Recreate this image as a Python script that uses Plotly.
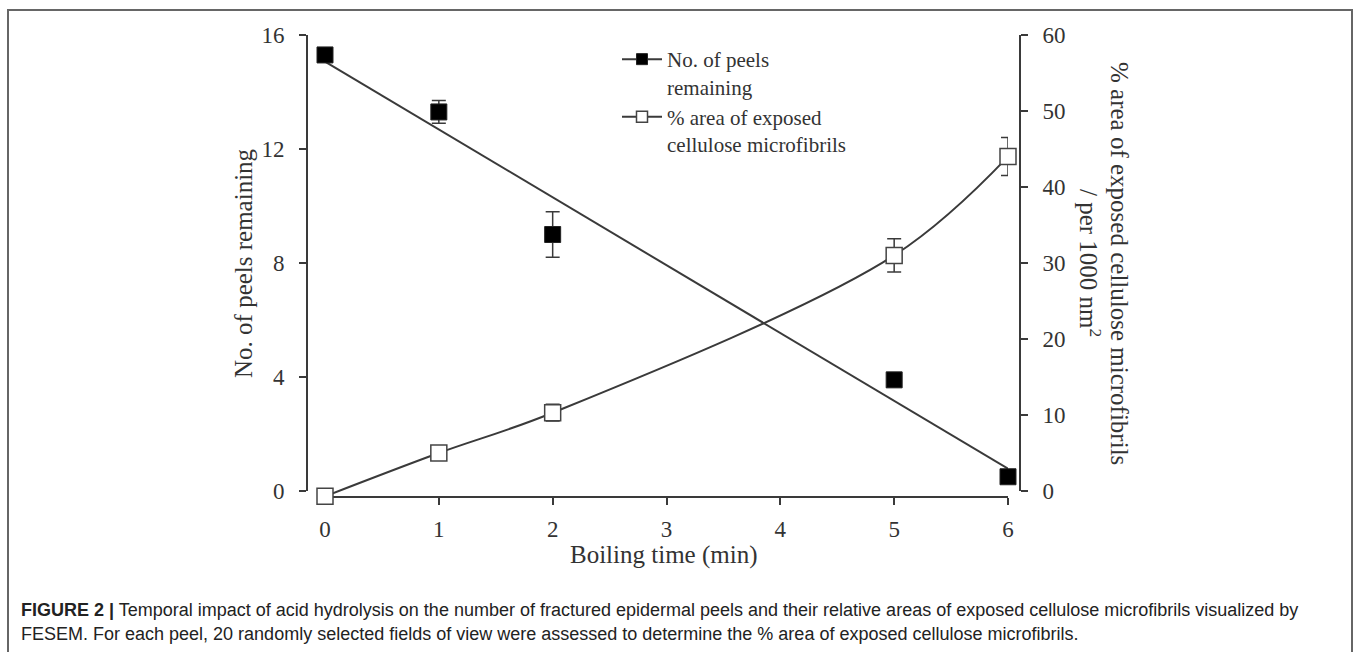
import numpy as np
import plotly.graph_objects as go

# Boiling time (min)
boil_time = [0, 1, 2, 5, 6]

# Number of epidermal peels remaining (mean and error)
peels = [15.3, 13.3, 9.0, 3.9, 0.5]
peels_err = [0.2, 0.4, 0.8, 0.15, 0.15]

# % area of exposed cellulose microfibrils per 1000 nm^2 (mean and error)
area = [-0.7, 5.0, 10.3, 31.0, 44.0]
area_err = [0.3, 0.5, 1.1, 2.2, 2.5]

x_ticks = [0, 1, 2, 3, 4, 5, 6]
left_ticks = [0, 4, 8, 12, 16]
right_ticks = [0, 10, 20, 30, 40, 50, 60]

caption_bold = "FIGURE 2 |"
caption_line1 = (" Temporal impact of acid hydrolysis on the number of fractured epidermal peels "
                 "and their relative areas of exposed cellulose microfibrils visualized by")
caption_line2 = ("FESEM. For each peel, 20 randomly selected fields of view were assessed to "
                 "determine the % area of exposed cellulose microfibrils.")

SERIF = "Liberation Serif, Times New Roman, serif"
SANS = "Liberation Sans, Arial, sans-serif"
INK = "#333333"
LINE = "#3a3a3a"

# Linear trend of the peel counts
slope, intercept = np.polyfit(boil_time, peels, 1)
trend_x = [boil_time[0], boil_time[-1]]
trend_y = [intercept + slope * t for t in trend_x]

W, H = 1358, 652
L, R, T, B = 307, 338, 35, 155
plot_w = W - L - R
plot_h = H - T - B
Y0_PX = 491  # pixel row of the value 0 on both y axes


def px_x(p):
    return (p - L) / plot_w


def px_y(p):
    return (H - B - p) / plot_h


# hidden axis with the right-hand scale, reaching down to the x axis line
right_per_px = 60 / (Y0_PX - T)
y3_low = -(H - B - Y0_PX) * right_per_px

fig = go.Figure()

fig.add_trace(go.Scatter(
    x=trend_x, y=trend_y, mode="lines",
    line=dict(color=LINE, width=2), showlegend=False, hoverinfo="skip",
    cliponaxis=False,
))

fig.add_trace(go.Scatter(
    x=boil_time, y=peels, mode="markers",
    marker=dict(symbol="square", size=16, color="#000000",
                line=dict(color="#222222", width=1)),
    error_y=dict(type="data", array=peels_err, color=LINE, thickness=1.5, width=7),
    showlegend=False, cliponaxis=False,
))

fig.add_trace(go.Scatter(
    x=boil_time, y=area, mode="lines+markers", yaxis="y3",
    line=dict(color=LINE, width=2, shape="spline", smoothing=1.0),
    marker=dict(symbol="square", size=16, color="#ffffff",
                line=dict(color="#444444", width=1.5)),
    error_y=dict(type="data", array=area_err, color=LINE, thickness=1.5, width=7),
    showlegend=False, cliponaxis=False,
))

# Legend entries
fig.add_trace(go.Scatter(
    x=[None], y=[None], mode="lines+markers", name="No. of peels<br>remaining",
    legendgroup="peels",
    line=dict(color=LINE, width=2),
    marker=dict(symbol="square", size=11, color="#000000", line=dict(color="#222222", width=1)),
))
fig.add_trace(go.Scatter(
    x=[None], y=[None], mode="lines+markers", name="% area of exposed<br>cellulose microfibrils",
    legendgroup="area", yaxis="y2",
    line=dict(color=LINE, width=2),
    marker=dict(symbol="square", size=11, color="#ffffff", line=dict(color="#444444", width=1.5)),
))

axis_common = dict(
    showline=True, linecolor=LINE, linewidth=2,
    ticks="outside", ticklen=7, tickwidth=2, tickcolor=LINE,
    showgrid=False, zeroline=False,
    tickfont=dict(family=SERIF, size=23, color=INK),
)

fig.update_layout(
    width=W, height=H,
    margin=dict(l=L, r=R, t=T, b=B, pad=0),
    paper_bgcolor="#ffffff", plot_bgcolor="rgba(0,0,0,0)",
    xaxis=dict(
        **axis_common,
        domain=[px_x(317), px_x(1008)],
        range=[-8 / ((1008 - 325) / 6), 6],
        tickvals=x_ticks, ticklabelstandoff=4,
        anchor="free", position=0,
    ),
    yaxis=dict(
        **axis_common,
        domain=[px_y(Y0_PX), 1],
        range=[0, 16], tickvals=left_ticks, ticklabelstandoff=10,
        anchor="free", position=0,
    ),
    yaxis2=dict(
        **axis_common,
        domain=[px_y(Y0_PX), 1],
        range=[0, 60], tickvals=right_ticks, ticklabelstandoff=10,
        overlaying="y", side="right", anchor="free", position=1,
    ),
    yaxis3=dict(
        domain=[0, 1], range=[y3_low, 60], visible=False, anchor="x",
    ),
    legend=dict(
        x=px_x(617), y=px_y(39), xanchor="left", yanchor="top",
        bgcolor="rgba(0,0,0,0)", valign="top", tracegroupgap=0,
        font=dict(family=SERIF, size=21, color=INK),
        itemwidth=40,
    ),
    showlegend=True,
)

TITLE_FONT = dict(family=SERIF, size=25, color=INK)
mid_y = px_y((T + Y0_PX) / 2)

# Axis titles
fig.add_annotation(
    xref="paper", yref="paper", x=px_x(664), y=px_y(555),
    text="Boiling time (min)", showarrow=False, font=TITLE_FONT,
    xanchor="center", yanchor="middle",
)
fig.add_annotation(
    xref="paper", yref="paper", x=px_x(243), y=mid_y,
    text="No. of peels remaining", textangle=-90, showarrow=False, font=TITLE_FONT,
    xanchor="center", yanchor="middle",
)
fig.add_annotation(
    xref="paper", yref="paper", x=px_x(1120), y=mid_y,
    text="% area of exposed cellulose microfibrils", textangle=90, showarrow=False,
    font=TITLE_FONT, xanchor="center", yanchor="middle",
)
fig.add_annotation(
    xref="paper", yref="paper", x=px_x(1090), y=mid_y,
    text="/ per 1000 nm<sup>2</sup>", textangle=90, showarrow=False,
    font=TITLE_FONT, xanchor="center", yanchor="middle",
)

# Caption below the chart
fig.add_annotation(
    xref="paper", yref="paper", x=px_x(19), y=px_y(610),
    text=f"<b>{caption_bold}</b>{caption_line1}", showarrow=False,
    font=dict(family=SANS, size=18, color="#222222"), xanchor="left", yanchor="middle",
)
fig.add_annotation(
    xref="paper", yref="paper", x=px_x(19), y=px_y(634),
    text=caption_line2, showarrow=False,
    font=dict(family=SANS, size=18, color="#222222"), xanchor="left", yanchor="middle",
)

# Figure frame
fig.add_shape(
    type="rect", xref="paper", yref="paper",
    x0=px_x(8), x1=px_x(1352), y0=px_y(665), y1=px_y(10),
    line=dict(color="#666666", width=2), fillcolor="rgba(0,0,0,0)", layer="above",
)

fig.write_html("out.html")
